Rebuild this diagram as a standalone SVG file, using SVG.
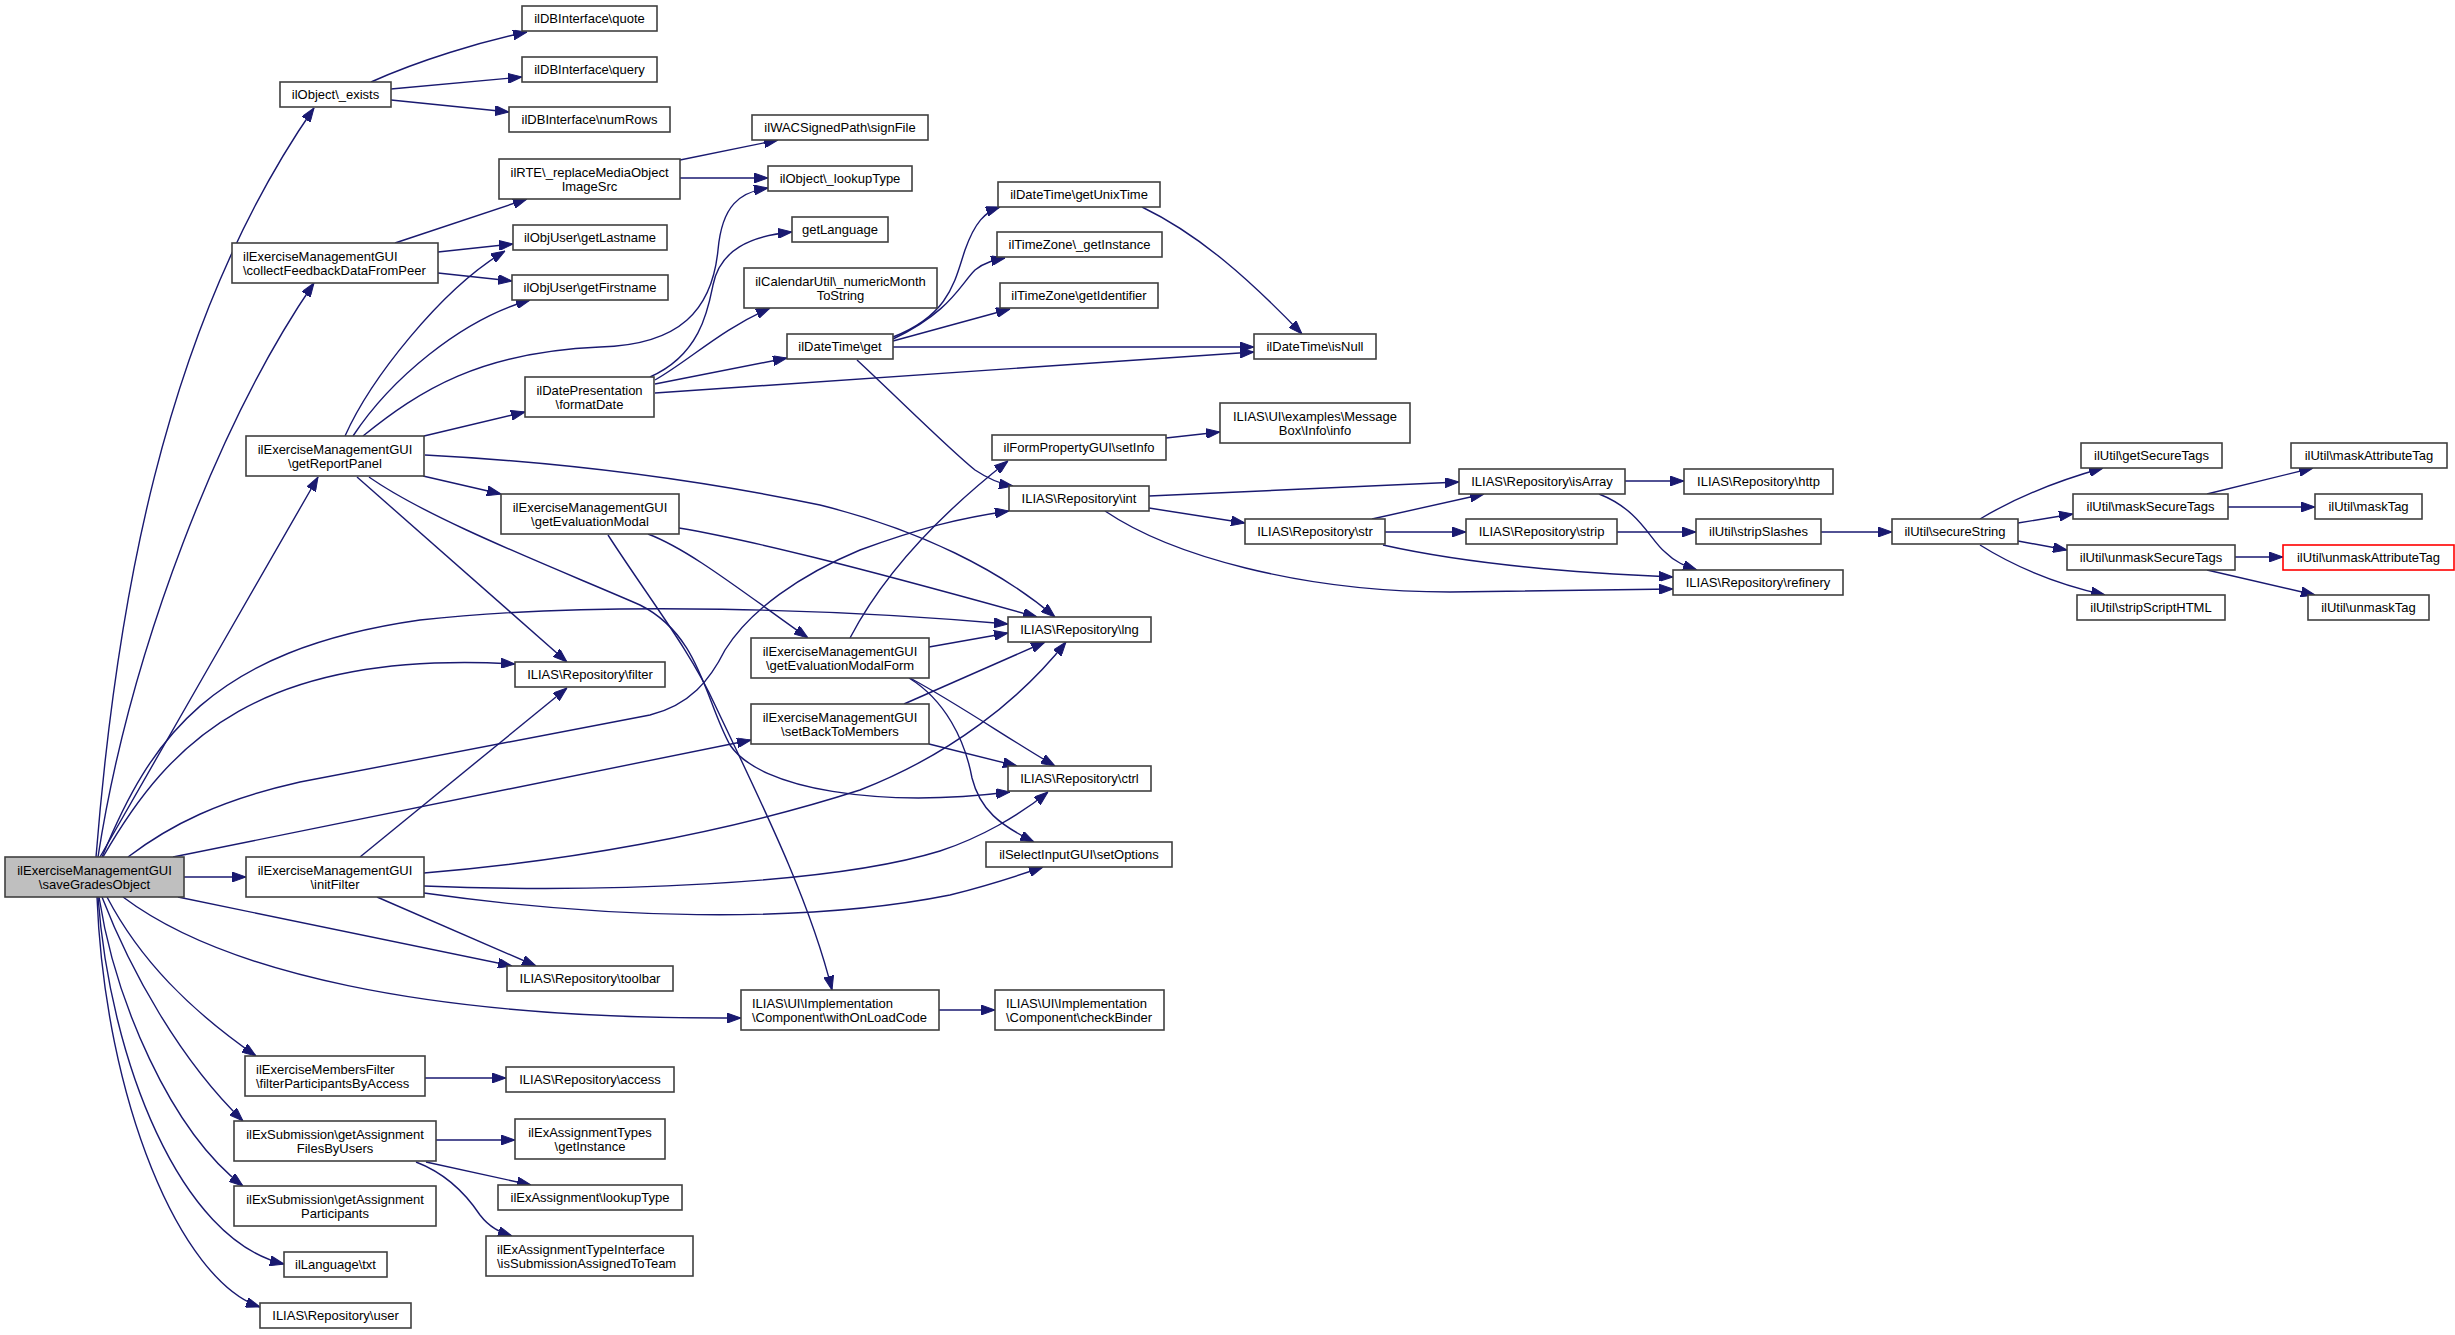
<svg xmlns="http://www.w3.org/2000/svg" width="2455" height="1335" viewBox="0 0 2455 1335">
<defs>
<style>
.n rect{fill:#fff;stroke:#404040;stroke-width:1.6}
.n.root rect{fill:#bfbfbf}
.n.red rect{stroke:#ff0000}
.n text{font-family:"Liberation Sans",Arial,sans-serif;font-size:13px;fill:#000}
.c{text-anchor:middle}
#edges path{fill:none;stroke:#191970;stroke-width:1.4;marker-end:url(#ah)}
</style>
<marker id="ah" viewBox="0 0 14 10" refX="14" refY="5" markerWidth="14" markerHeight="10" markerUnits="userSpaceOnUse" orient="auto">
<path d="M0,0 L14,5 L0,10 z" fill="#191970" stroke="#191970" stroke-width="1"/>
</marker>
</defs>
<rect width="2455" height="1335" fill="#fff"/>
<g id="edges">
<path d="M96,857 C115,620 160,330 314,108"/>
<path d="M98,857 C130,650 220,420 314,283"/>
<path d="M100,857 C160,750 260,580 318,477"/>
<path d="M102,857 C150,740 210,650 420,620 C600,600 850,610 1008,624"/>
<path d="M103,857 C170,740 260,650 515,664"/>
<path d="M128,857 C170,825 220,800 300,782 L650,715 C690,705 710,680 725,650 C750,610 800,575 860,550 C920,528 960,518 1009,511"/>
<path d="M173,857 L751,740"/>
<path d="M184,877 L246,877"/>
<path d="M178,897 L512,966"/>
<path d="M377,897 L536,966"/>
<path d="M123,897 C220,970 420,1020 741,1018"/>
<path d="M107,897 C140,960 190,1010 256,1056"/>
<path d="M102,897 C130,970 180,1060 243,1121"/>
<path d="M99,897 C115,1000 170,1130 243,1186"/>
<path d="M98,897 C110,1060 180,1240 284,1264"/>
<path d="M97,897 C105,1100 180,1280 260,1307"/>
<path d="M371,82 C420,60 480,42 527,32"/>
<path d="M391,89 L522,77"/>
<path d="M391,100 L509,112"/>
<path d="M395,243 L527,199"/>
<path d="M438,252 L513,244"/>
<path d="M438,273 L512,281"/>
<path d="M680,160 L778,140"/>
<path d="M680,178 L768,178"/>
<path d="M345,436 C370,380 440,290 505,251"/>
<path d="M353,436 C390,380 460,320 530,300"/>
<path d="M363,436 C420,390 480,352 600,347 C680,345 712,310 718,250 C722,205 740,192 768,188"/>
<path d="M424,436 L525,412"/>
<path d="M423,476 L501,494"/>
<path d="M425,455 C560,462 700,480 820,505 C920,530 1000,570 1055,617"/>
<path d="M357,477 L567,662"/>
<path d="M369,477 C430,520 560,570 640,605 C700,635 705,700 730,745 C760,790 880,808 1010,792"/>
<path d="M650,377 C700,355 708,310 713,285 C720,250 750,236 792,232"/>
<path d="M655,380 C690,360 720,330 770,308"/>
<path d="M655,384 L787,358"/>
<path d="M655,393 L1254,352"/>
<path d="M893,337 C950,315 955,280 965,250 C975,222 985,212 1000,207"/>
<path d="M893,339 C950,312 960,285 975,270 C985,262 995,260 1005,258"/>
<path d="M893,341 L1010,309"/>
<path d="M893,347 L1254,347"/>
<path d="M1142,207 C1200,235 1250,280 1302,334"/>
<path d="M857,360 C900,400 950,450 975,470 C990,480 1000,484 1013,486"/>
<path d="M1166,438 L1220,432"/>
<path d="M850,638 C875,590 920,530 1008,461"/>
<path d="M1149,496 L1459,482"/>
<path d="M1149,508 L1245,523"/>
<path d="M1105,511 C1170,555 1300,592 1450,592 L1673,589"/>
<path d="M1372,519 L1484,494"/>
<path d="M1385,532 L1466,532"/>
<path d="M1383,545 C1450,560 1550,572 1673,577"/>
<path d="M1625,481 L1684,481"/>
<path d="M1599,494 C1640,510 1650,540 1665,552 C1675,562 1685,566 1697,570"/>
<path d="M1617,532 L1696,532"/>
<path d="M1821,532 L1892,532"/>
<path d="M1980,519 C2020,495 2060,480 2103,468"/>
<path d="M2018,523 L2073,514"/>
<path d="M2018,541 L2067,550"/>
<path d="M1980,545 C2020,570 2060,585 2105,595"/>
<path d="M2207,494 L2313,468"/>
<path d="M2228,507 L2315,507"/>
<path d="M2235,557 L2283,557"/>
<path d="M2207,570 L2315,595"/>
<path d="M648,534 C690,550 740,590 808,638"/>
<path d="M679,528 C750,540 850,565 1037,617"/>
<path d="M608,535 C650,600 690,650 715,705 C760,800 810,900 832,990"/>
<path d="M929,647 L1008,633"/>
<path d="M910,678 C960,705 1010,740 1055,766"/>
<path d="M909,678 C945,700 965,740 972,778 C980,810 1000,825 1034,842"/>
<path d="M904,704 L1045,642"/>
<path d="M929,744 L1017,766"/>
<path d="M360,857 L567,688"/>
<path d="M424,873 C560,862 720,835 860,790 C950,755 1020,700 1066,642"/>
<path d="M424,886 C600,893 830,885 940,851 C980,838 1020,815 1048,792"/>
<path d="M424,893 C600,918 800,925 950,895 C990,885 1020,875 1043,867"/>
<path d="M939,1010 L995,1010"/>
<path d="M425,1078 L506,1078"/>
<path d="M436,1140 L515,1140"/>
<path d="M426,1162 L531,1185"/>
<path d="M416,1162 C450,1175 470,1200 480,1215 C490,1228 500,1232 512,1236"/>
</g>
<g id="n_saveGradesObject" class="n root"><rect x="5" y="857" width="179" height="40"/><text class="c" x="94.5" y="874.5">ilExerciseManagementGUI</text><text class="c" x="94.5" y="888.5">\saveGradesObject</text></g>
<g id="n_exists" class="n"><rect x="280" y="82" width="111" height="25"/><text class="c" x="335.5" y="99">ilObject\_exists</text></g>
<g id="n_quote" class="n"><rect x="522" y="6" width="135" height="25"/><text class="c" x="589.5" y="23">ilDBInterface\quote</text></g>
<g id="n_query" class="n"><rect x="522" y="57" width="135" height="25"/><text class="c" x="589.5" y="74">ilDBInterface\query</text></g>
<g id="n_numRows" class="n"><rect x="509" y="107" width="161" height="25"/><text class="c" x="589.5" y="124">ilDBInterface\numRows</text></g>
<g id="n_collectFeedback" class="n"><rect x="232" y="243" width="206" height="40"/><text x="243" y="260.5">ilExerciseManagementGUI</text><text x="243" y="274.5">\collectFeedbackDataFromPeer</text></g>
<g id="n_replaceMedia" class="n"><rect x="499" y="159" width="181" height="40"/><text class="c" x="589.5" y="176.5">ilRTE\_replaceMediaObject</text><text class="c" x="589.5" y="190.5">ImageSrc</text></g>
<g id="n_signFile" class="n"><rect x="752" y="115" width="176" height="25"/><text class="c" x="840" y="132">ilWACSignedPath\signFile</text></g>
<g id="n_lookupType" class="n"><rect x="768" y="166" width="144" height="25"/><text class="c" x="840" y="183">ilObject\_lookupType</text></g>
<g id="n_getLastname" class="n"><rect x="513" y="225" width="154" height="25"/><text class="c" x="590" y="242">ilObjUser\getLastname</text></g>
<g id="n_getFirstname" class="n"><rect x="512" y="275" width="156" height="25"/><text class="c" x="590" y="292">ilObjUser\getFirstname</text></g>
<g id="n_getReportPanel" class="n"><rect x="246" y="436" width="178" height="40"/><text class="c" x="335" y="453.5">ilExerciseManagementGUI</text><text class="c" x="335" y="467.5">\getReportPanel</text></g>
<g id="n_formatDate" class="n"><rect x="525" y="377" width="129" height="40"/><text class="c" x="589.5" y="394.5">ilDatePresentation</text><text class="c" x="589.5" y="408.5">\formatDate</text></g>
<g id="n_getLanguage" class="n"><rect x="792" y="217" width="96" height="25"/><text class="c" x="840" y="234">getLanguage</text></g>
<g id="n_numericMonth" class="n"><rect x="744" y="268" width="193" height="40"/><text class="c" x="840.5" y="285.5">ilCalendarUtil\_numericMonth</text><text class="c" x="840.5" y="299.5">ToString</text></g>
<g id="n_get" class="n"><rect x="787" y="334" width="106" height="25"/><text class="c" x="840" y="351">ilDateTime\get</text></g>
<g id="n_getUnixTime" class="n"><rect x="998" y="182" width="162" height="25"/><text class="c" x="1079" y="199">ilDateTime\getUnixTime</text></g>
<g id="n_tzGetInstance" class="n"><rect x="997" y="232" width="165" height="25"/><text class="c" x="1079.5" y="249">ilTimeZone\_getInstance</text></g>
<g id="n_getIdentifier" class="n"><rect x="1000" y="283" width="158" height="25"/><text class="c" x="1079" y="300">ilTimeZone\getIdentifier</text></g>
<g id="n_isNull" class="n"><rect x="1254" y="334" width="122" height="25"/><text class="c" x="1315" y="351">ilDateTime\isNull</text></g>
<g id="n_messageBox" class="n"><rect x="1220" y="403" width="190" height="40"/><text class="c" x="1315" y="420.5">ILIAS\UI\examples\Message</text><text class="c" x="1315" y="434.5">Box\Info\info</text></g>
<g id="n_setInfo" class="n"><rect x="992" y="435" width="174" height="25"/><text class="c" x="1079" y="452">ilFormPropertyGUI\setInfo</text></g>
<g id="n_int" class="n"><rect x="1009" y="486" width="140" height="25"/><text class="c" x="1079" y="503">ILIAS\Repository\int</text></g>
<g id="n_isArray" class="n"><rect x="1459" y="469" width="166" height="25"/><text class="c" x="1542" y="486">ILIAS\Repository\isArray</text></g>
<g id="n_str" class="n"><rect x="1245" y="519" width="140" height="25"/><text class="c" x="1315" y="536">ILIAS\Repository\str</text></g>
<g id="n_strip" class="n"><rect x="1466" y="519" width="151" height="25"/><text class="c" x="1541.5" y="536">ILIAS\Repository\strip</text></g>
<g id="n_http" class="n"><rect x="1684" y="469" width="149" height="25"/><text class="c" x="1758.5" y="486">ILIAS\Repository\http</text></g>
<g id="n_stripSlashes" class="n"><rect x="1696" y="519" width="125" height="25"/><text class="c" x="1758.5" y="536">ilUtil\stripSlashes</text></g>
<g id="n_refinery" class="n"><rect x="1673" y="570" width="170" height="25"/><text class="c" x="1758" y="587">ILIAS\Repository\refinery</text></g>
<g id="n_secureString" class="n"><rect x="1892" y="519" width="126" height="25"/><text class="c" x="1955" y="536">ilUtil\secureString</text></g>
<g id="n_getSecureTags" class="n"><rect x="2081" y="443" width="141" height="25"/><text class="c" x="2151.5" y="460">ilUtil\getSecureTags</text></g>
<g id="n_maskAttributeTag" class="n"><rect x="2291" y="443" width="156" height="25"/><text class="c" x="2369" y="460">ilUtil\maskAttributeTag</text></g>
<g id="n_maskSecureTags" class="n"><rect x="2073" y="494" width="155" height="25"/><text class="c" x="2150.5" y="511">ilUtil\maskSecureTags</text></g>
<g id="n_maskTag" class="n"><rect x="2315" y="494" width="107" height="25"/><text class="c" x="2368.5" y="511">ilUtil\maskTag</text></g>
<g id="n_unmaskSecureTags" class="n"><rect x="2067" y="545" width="168" height="25"/><text class="c" x="2151" y="562">ilUtil\unmaskSecureTags</text></g>
<g id="n_unmaskAttributeTag" class="n red"><rect x="2283" y="545" width="171" height="25"/><text class="c" x="2368.5" y="562">ilUtil\unmaskAttributeTag</text></g>
<g id="n_stripScriptHTML" class="n"><rect x="2077" y="595" width="148" height="25"/><text class="c" x="2151" y="612">ilUtil\stripScriptHTML</text></g>
<g id="n_unmaskTag" class="n"><rect x="2308" y="595" width="121" height="25"/><text class="c" x="2368.5" y="612">ilUtil\unmaskTag</text></g>
<g id="n_getEvaluationModal" class="n"><rect x="501" y="494" width="178" height="40"/><text class="c" x="590" y="511.5">ilExerciseManagementGUI</text><text class="c" x="590" y="525.5">\getEvaluationModal</text></g>
<g id="n_lng" class="n"><rect x="1008" y="617" width="143" height="25"/><text class="c" x="1079.5" y="634">ILIAS\Repository\lng</text></g>
<g id="n_getEvaluationModalForm" class="n"><rect x="751" y="638" width="178" height="40"/><text class="c" x="840" y="655.5">ilExerciseManagementGUI</text><text class="c" x="840" y="669.5">\getEvaluationModalForm</text></g>
<g id="n_setBackToMembers" class="n"><rect x="751" y="704" width="178" height="40"/><text class="c" x="840" y="721.5">ilExerciseManagementGUI</text><text class="c" x="840" y="735.5">\setBackToMembers</text></g>
<g id="n_ctrl" class="n"><rect x="1008" y="766" width="143" height="25"/><text class="c" x="1079.5" y="783">ILIAS\Repository\ctrl</text></g>
<g id="n_setOptions" class="n"><rect x="986" y="842" width="186" height="25"/><text class="c" x="1079" y="859">ilSelectInputGUI\setOptions</text></g>
<g id="n_filter" class="n"><rect x="515" y="662" width="150" height="25"/><text class="c" x="590" y="679">ILIAS\Repository\filter</text></g>
<g id="n_initFilter" class="n"><rect x="246" y="857" width="178" height="40"/><text class="c" x="335" y="874.5">ilExerciseManagementGUI</text><text class="c" x="335" y="888.5">\initFilter</text></g>
<g id="n_toolbar" class="n"><rect x="507" y="966" width="166" height="25"/><text class="c" x="590" y="983">ILIAS\Repository\toolbar</text></g>
<g id="n_withOnLoadCode" class="n"><rect x="741" y="990" width="198" height="40"/><text x="752" y="1007.5">ILIAS\UI\Implementation</text><text x="752" y="1021.5">\Component\withOnLoadCode</text></g>
<g id="n_checkBinder" class="n"><rect x="995" y="990" width="169" height="40"/><text x="1006" y="1007.5">ILIAS\UI\Implementation</text><text x="1006" y="1021.5">\Component\checkBinder</text></g>
<g id="n_filterParticipants" class="n"><rect x="245" y="1056" width="180" height="40"/><text x="256" y="1073.5">ilExerciseMembersFilter</text><text x="256" y="1087.5">\filterParticipantsByAccess</text></g>
<g id="n_access" class="n"><rect x="506" y="1067" width="168" height="25"/><text class="c" x="590" y="1084">ILIAS\Repository\access</text></g>
<g id="n_filesByUsers" class="n"><rect x="234" y="1121" width="202" height="40"/><text class="c" x="335" y="1138.5">ilExSubmission\getAssignment</text><text class="c" x="335" y="1152.5">FilesByUsers</text></g>
<g id="n_typesGetInstance" class="n"><rect x="515" y="1119" width="150" height="40"/><text class="c" x="590" y="1136.5">ilExAssignmentTypes</text><text class="c" x="590" y="1150.5">\getInstance</text></g>
<g id="n_exLookupType" class="n"><rect x="498" y="1185" width="184" height="25"/><text class="c" x="590" y="1202">ilExAssignment\lookupType</text></g>
<g id="n_participants" class="n"><rect x="234" y="1186" width="202" height="40"/><text class="c" x="335" y="1203.5">ilExSubmission\getAssignment</text><text class="c" x="335" y="1217.5">Participants</text></g>
<g id="n_isSubmission" class="n"><rect x="486" y="1236" width="207" height="40"/><text x="497" y="1253.5">ilExAssignmentTypeInterface</text><text x="497" y="1267.5">\isSubmissionAssignedToTeam</text></g>
<g id="n_txt" class="n"><rect x="284" y="1252" width="103" height="25"/><text class="c" x="335.5" y="1269">ilLanguage\txt</text></g>
<g id="n_user" class="n"><rect x="260" y="1303" width="151" height="25"/><text class="c" x="335.5" y="1320">ILIAS\Repository\user</text></g>
</svg>
